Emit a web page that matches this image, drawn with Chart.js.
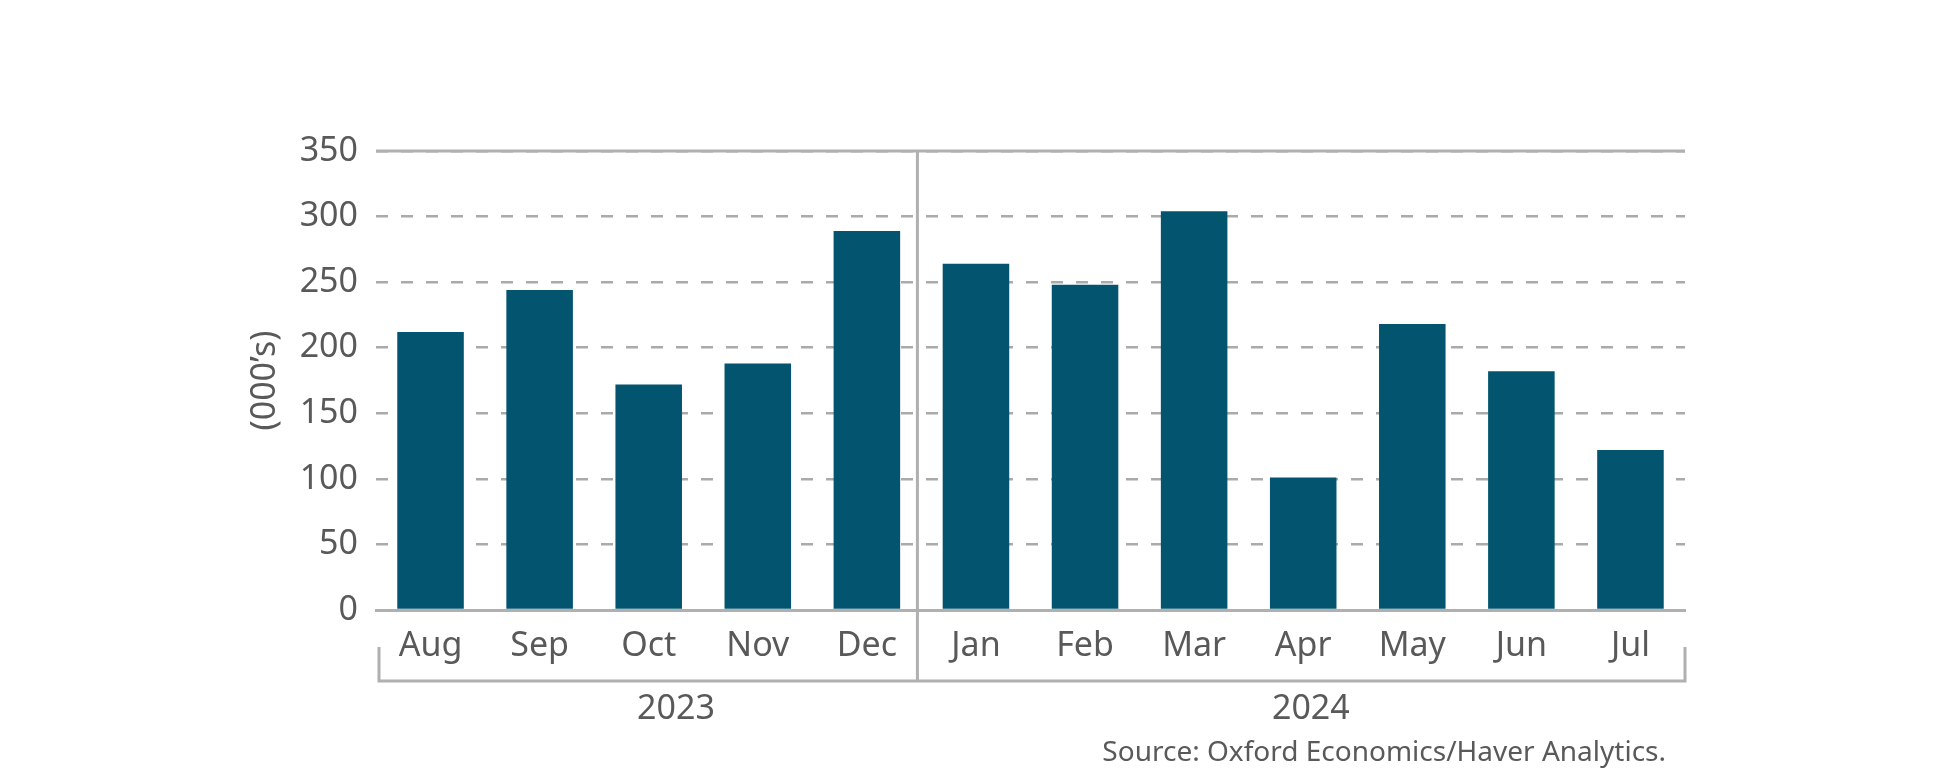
<!DOCTYPE html>
<html>
<head>
<meta charset="utf-8">
<script src="https://cdn.jsdelivr.net/npm/chart.js@4/dist/chart.umd.min.js"></script>
<style>
  html, body { margin: 0; padding: 0; background: #fff; }
  #wrap { width: 1954px; height: 772px; }
</style>
</head>
<body>
<div id="wrap"><canvas id="chart" width="1954" height="772"></canvas></div>
<script>
// Monthly values, thousands
const months = ['Aug', 'Sep', 'Oct', 'Nov', 'Dec', 'Jan', 'Feb', 'Mar', 'Apr', 'May', 'Jun', 'Jul'];
const values = [212, 244, 172, 188, 289, 264, 248, 304, 101, 218, 182, 122];
const years = ['2023', '2024'];
const yTicks = [0, 50, 100, 150, 200, 250, 300, 350];

const textColor = '#595959';
const lineColor = '#b0b0b0';
const fontFamily = '"Noto Sans", "Open Sans", sans-serif';

// Draws the top border, year brackets, divider, y title and source note
const decorPlugin = {
  id: 'decor',
  afterDraw(chart) {
    const ctx = chart.ctx;
    const area = chart.chartArea;
    const x = chart.scales.x;
    const y = chart.scales.y;
    const yTop = y.getPixelForValue(yTicks[yTicks.length - 1]);
    const divX = (x.getPixelForValue(4) + x.getPixelForValue(5)) / 2 - 4;
    const bracketTop = area.bottom + 37;
    const bracketBottom = area.bottom + 71;

    ctx.save();
    ctx.strokeStyle = lineColor;
    ctx.lineWidth = 3;

    // solid top line
    ctx.beginPath();
    ctx.moveTo(area.left, yTop);
    ctx.lineTo(area.right, yTop);
    ctx.stroke();

    // divider between years
    ctx.beginPath();
    ctx.moveTo(divX, yTop);
    ctx.lineTo(divX, bracketBottom);
    ctx.stroke();

    // bracket under month labels
    ctx.beginPath();
    ctx.moveTo(area.left + 3, bracketTop);
    ctx.lineTo(area.left + 3, bracketBottom);
    ctx.lineTo(area.right, bracketBottom);
    ctx.lineTo(area.right, bracketTop);
    ctx.stroke();

    ctx.fillStyle = textColor;
    ctx.font = '34px ' + fontFamily;
    ctx.textAlign = 'center';
    ctx.textBaseline = 'middle';
    ctx.fillText(years[0], x.getPixelForValue(2.25), area.bottom + 99);
    ctx.fillText(years[1], x.getPixelForValue(8.07), area.bottom + 99);

    // y axis title
    ctx.save();
    ctx.translate(265, (area.top + area.bottom) / 2);
    ctx.rotate(-Math.PI / 2);
    ctx.fillText("(000\u2019s)", 0, 0);
    ctx.restore();

    // source
    ctx.font = '28px ' + fontFamily;
    ctx.textAlign = 'right';
    ctx.fillText('Source: Oxford Economics/Haver Analytics.', area.right - 19, area.bottom + 143);
    ctx.restore();
  }
};

new Chart(document.getElementById('chart'), {
  type: 'bar',
  data: {
    labels: months,
    datasets: [{
      data: values,
      backgroundColor: '#02546f',
      borderWidth: 0,
      barPercentage: 0.61,
      categoryPercentage: 1
    }]
  },
  options: {
    responsive: false,
    animation: false,
    layout: { padding: { top: 151, right: 269, bottom: 0, left: 0 } },
    plugins: {
      legend: { display: false },
      tooltip: { enabled: false }
    },
    scales: {
      x: {
        grid: { display: false, drawTicks: false },
        border: { display: true, color: lineColor, width: 3 },
        ticks: {
          color: textColor,
          font: { family: fontFamily, size: 34 },
          padding: 16,
          maxRotation: 0
        },
        afterFit(scale) { scale.height = 162; }
      },
      y: {
        min: 0,
        max: 350,
        afterBuildTicks(scale) { scale.ticks = yTicks.map(v => ({ value: v })); },
        grid: { color: '#aaaaaa', lineWidth: 2.5, drawTicks: false },
        border: { display: false, dash: [12, 13] },
        ticks: {
          color: textColor,
          font: { family: fontFamily, size: 34 },
          padding: 18
        },
        afterFit(scale) { scale.width = 376; }
      }
    }
  },
  plugins: [decorPlugin]
});
</script>
</body>
</html>
